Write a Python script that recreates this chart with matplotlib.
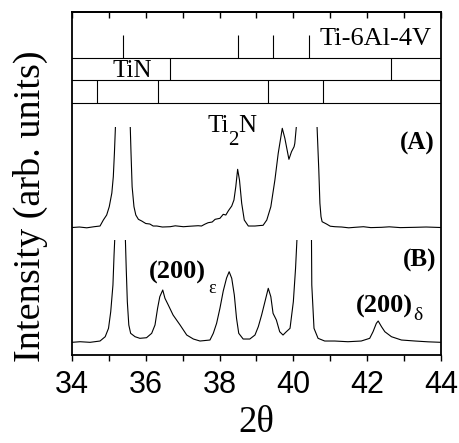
import matplotlib
matplotlib.use("Agg")
import matplotlib.pyplot as plt
from matplotlib.patches import Rectangle
from matplotlib.ticker import MultipleLocator
import numpy as np

# ---- data (2theta in degrees, intensity in arb. units) ----
two_theta_a = [34.00, 34.20, 34.40, 34.60, 34.76, 34.85, 34.94, 35.01, 35.08, 35.12,
               35.15, 35.19, 35.38, 35.57, 35.60, 35.63, 35.68, 35.73, 35.80, 35.89,
               36.00, 36.11, 36.20, 36.30, 36.45, 36.66, 36.80, 37.02, 37.20, 37.42,
               37.51, 37.60, 37.69, 37.80, 37.88, 38.01, 38.10, 38.17, 38.24, 38.33,
               38.39, 38.44, 38.49, 38.54, 38.60, 38.67, 38.78, 38.96, 39.10, 39.18,
               39.28, 39.39, 39.50, 39.59, 39.70, 39.77, 39.88, 39.95, 40.02, 40.04,
               40.11, 40.35, 40.63, 40.69, 40.72, 40.75, 40.78, 40.90, 41.00, 41.13,
               41.31, 41.50, 41.67, 41.90, 42.10, 42.39, 42.60, 42.90, 43.30, 43.60,
               44.00]
intensity_a = [127.5, 128.0, 127.2, 128.3, 129.0, 135.0, 140.0, 148.3, 162.0, 178.3,
               202.0, 240.0, 420.0, 240.0, 202.0, 168.3, 148.3, 140.0, 135.7, 134.0,
               131.5, 131.0, 129.0, 129.0, 128.0, 128.3, 129.2, 128.3, 128.8, 129.3,
               129.0, 130.8, 132.3, 133.0, 135.7, 136.7, 140.7, 140.0, 144.3, 149.0,
               155.0, 168.3, 185.7, 175.0, 151.7, 135.0, 129.0, 129.0, 129.5, 129.7,
               135.0, 148.3, 175.0, 201.7, 226.7, 216.7, 195.7, 203.3, 208.3, 211.7,
               240.0, 420.0, 240.0, 185.0, 151.7, 138.3, 133.3, 131.0, 128.8, 128.3,
               128.0, 127.2, 127.7, 128.3, 127.4, 127.7, 128.2, 127.4, 127.7, 128.0,
               127.5]

two_theta_b = [34.00, 34.22, 34.49, 34.76, 34.90, 34.99, 35.05, 35.11, 35.14, 35.17,
               35.30, 35.44, 35.47, 35.50, 35.54, 35.59, 35.71, 35.84, 36.02, 36.16,
               36.25, 36.32, 36.38, 36.46, 36.52, 36.61, 36.74, 36.93, 37.11, 37.29,
               37.47, 37.74, 37.83, 37.92, 38.01, 38.10, 38.19, 38.26, 38.33, 38.40,
               38.46, 38.52, 38.64, 38.82, 38.96, 39.05, 39.14, 39.23, 39.32, 39.39,
               39.45, 39.54, 39.63, 39.72, 39.81, 39.91, 40.00, 40.06, 40.11, 40.30,
               40.49, 40.50, 40.56, 40.67, 40.85, 41.12, 41.48, 41.84, 42.07, 42.16,
               42.25, 42.30, 42.39, 42.48, 42.66, 42.93, 43.30, 43.65, 44.00]
intensity_b = [12.7, 13.3, 12.7, 14.0, 18.3, 26.7, 43.3, 70.0, 100.0, 125.0,
               400.0, 125.0, 86.7, 53.3, 30.0, 21.7, 18.3, 16.7, 17.3, 21.7,
               30.0, 46.7, 58.3, 65.0, 56.7, 50.0, 40.0, 30.0, 20.0, 16.0,
               14.0, 15.0, 21.7, 31.7, 46.7, 64.0, 77.0, 83.3, 76.7, 60.0,
               36.7, 21.7, 16.0, 16.0, 20.0, 28.3, 40.0, 53.3, 66.7, 58.3,
               41.7, 35.0, 23.3, 20.0, 23.3, 26.7, 53.3, 86.7, 125.0, 500.0,
               125.0, 70.0, 26.7, 16.7, 14.0, 14.0, 13.3, 14.0, 16.7, 23.3,
               31.7, 34.0, 28.3, 23.3, 18.3, 15.0, 14.0, 13.2, 12.7]

# reference stick patterns (peak positions, 2theta)
ti64_peaks = [35.39, 38.51, 39.44, 40.43]
tin_peaks = [36.66, 42.66]
ti2n_peaks = [34.67, 36.32, 39.30, 40.81]

SERIF = "Liberation Serif"
SANS = "Liberation Sans"

fig = plt.figure(figsize=(4.6, 4.43), dpi=100)
ax = fig.add_axes([0.1565, 0.1986, 0.802, 0.7743])
ax.set_xlim(34, 44)
ax.set_ylim(0, 343)

# stick pattern rows
row_lines = [297, 275, 252]
for y in row_lines:
    ax.axhline(y, color="black", lw=0.8)
ax.vlines(ti64_peaks, 297, 320, color="black", lw=0.8)
ax.vlines(tin_peaks, 275, 297, color="black", lw=0.8)
ax.vlines(ti2n_peaks, 252, 275, color="black", lw=0.8)

# diffraction patterns, truncated at the top like the original
for xs, ys, top in [(two_theta_a, intensity_a, 228.3), (two_theta_b, intensity_b, 115.0)]:
    line, = ax.plot(xs, ys, color="black", lw=0.8)
    clip = Rectangle((34, 0), 10, top, transform=ax.transData)
    line.set_clip_path(clip)

# labels
ax.text(40.72, 310, "Ti-6Al-4V", family=SERIF, fontsize=19, va="baseline")
ax.text(35.11, 278, "TiN", family=SERIF, fontsize=18, va="baseline")
ax.text(37.66, 223.3, "Ti", family=SERIF, fontsize=18, va="baseline")
ax.text(38.24, 210, "2", family=SERIF, fontsize=15, va="baseline")
ax.text(38.50, 223.3, "N", family=SERIF, fontsize=18, va="baseline")
ax.text(42.89, 205, "(A)", family=SERIF, fontsize=18, fontweight="bold", va="baseline")
ax.text(42.97, 88, "(B)", family=SERIF, fontsize=18, fontweight="bold", va="baseline")
ax.text(36.08, 76, "(200)", family=SERIF, fontsize=19, fontweight="bold", va="baseline")
ax.text(37.68, 62, "\u03b5", family=SERIF, fontsize=13, va="baseline")
ax.text(41.70, 42, "(200)", family=SERIF, fontsize=19, fontweight="bold", va="baseline")
ax.text(43.25, 35, "\u03b4", family=SERIF, fontsize=14, va="baseline")

# axes styling
for s in ax.spines.values():
    s.set_linewidth(1.3)
ax.set_yticks([])
ax.xaxis.set_major_locator(MultipleLocator(2))
ax.xaxis.set_minor_locator(MultipleLocator(1))
ax.tick_params(axis="x", which="both", direction="out", length=4, width=1, pad=7,
               labelsize=22)
for lab in ax.get_xticklabels():
    lab.set_family(SANS)
top = ax.secondary_xaxis("top")
top.xaxis.set_major_locator(MultipleLocator(1))
top.tick_params(axis="x", direction="in", length=4.5, width=1, labeltop=False)
top.spines["top"].set_linewidth(1.3)

ax.set_xlabel("2\u03b8", family=SERIF, fontsize=26.5, labelpad=4)
ax.set_ylabel("Intensity (arb. units)", family=SERIF, fontsize=27.5)
ax.yaxis.set_label_coords(-0.065, 0.434)

fig.savefig("out.png", dpi=100)
